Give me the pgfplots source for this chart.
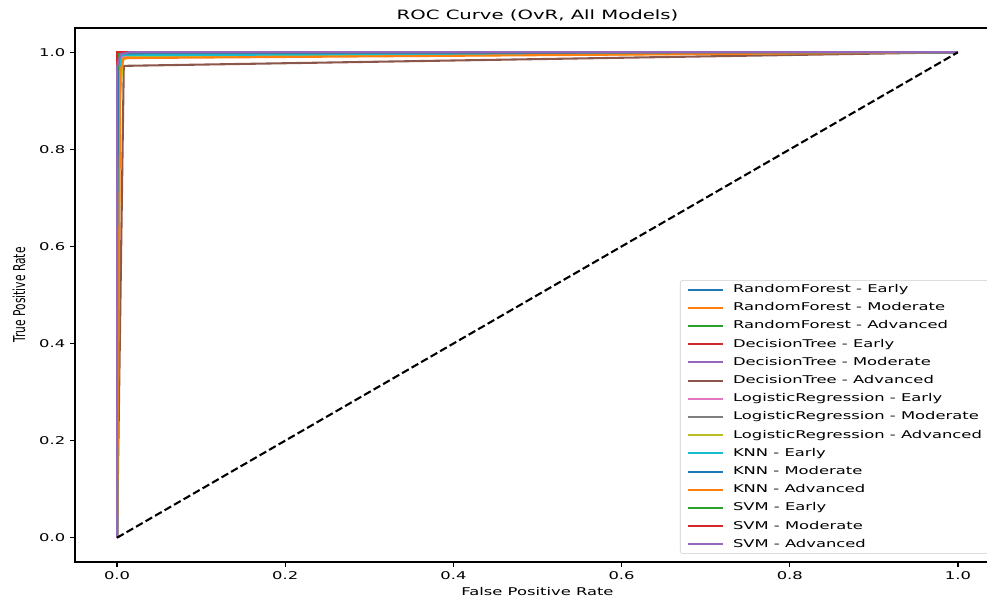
\documentclass[border=0pt]{standalone}
\usepackage{fontspec}
\setmainfont{DejaVu Sans}
\usepackage{graphicx}
\usepackage{pgfplots}
\pgfplotsset{compat=1.18}
\newcommand{\hs}[1]{\scalebox{1.53}[1]{#1}}
\definecolor{c0}{HTML}{1F77B4}
\definecolor{c1}{HTML}{FF7F0E}
\definecolor{c2}{HTML}{2CA02C}
\definecolor{c3}{HTML}{D62728}
\definecolor{c4}{HTML}{9467BD}
\definecolor{c5}{HTML}{8C564B}
\definecolor{c6}{HTML}{E377C2}
\definecolor{c7}{HTML}{7F7F7F}
\definecolor{c8}{HTML}{BCBD22}
\definecolor{c9}{HTML}{17BECF}
\begin{document}
\begin{tikzpicture}[font=\fontsize{7.7}{9.2}\selectfont]
\begin{axis}[
  scale only axis, width=666pt, height=384.48pt,
  xmin=-0.05, xmax=1.05, ymin=-0.05, ymax=1.05,
  xtick={0,0.2,0.4,0.6,0.8,1.0}, ytick={0,0.2,0.4,0.6,0.8,1.0},
  tick align=outside, tick pos=left, major tick length=3.5pt,
  tick style={black, line width=0.8pt},
  axis line style={line width=0.8pt},
  /pgf/number format/assume math mode=true,
  xticklabel={\hs{\pgfmathprintnumber[fixed,fixed zerofill,precision=1]{\tick}}},
  yticklabel={\hs{\pgfmathprintnumber[fixed,fixed zerofill,precision=1]{\tick}}},
  every axis title shift=0pt,
  title={\fontsize{9.24}{11}\selectfont\hs{ROC Curve (OvR, All Models)}},
  title style={at={(axis description cs:0.5,1.024)}, anchor=center},
  xlabel={\hs{False Positive Rate}},
  xlabel style={at={(axis description cs:0.5,-0.056)}, anchor=center},
  ylabel={\scalebox{1}[1.53]{True Positive Rate}},
  ylabel style={at={(axis description cs:-0.0605,0.5)}, anchor=center},
  legend cell align=left,
  legend image code/.code={\draw[#1] (0pt,0pt) -- (25.2pt,0pt); \path (32pt,0pt);},
  legend style={at={(axis description cs:0.654,0.528)}, anchor=north west,
    draw=black!20, rounded corners=2pt, fill=white, fill opacity=0.8, text opacity=1,
    inner xsep=4.5pt, inner ysep=3pt, row sep=5.7pt,
    nodes={inner sep=0pt, text height=5.8pt, text depth=1.6pt}},
  every axis plot/.append style={line width=1.5pt},
]
\addplot[c0] coordinates {(0,0) (0,0.96) (0.001,0.995) (0.003,1) (1,1)};
\addlegendentry{\hs{RandomForest - Early}}
\addplot[c1] coordinates {(0,0) (0.001,0.93) (0.006,0.985) (0.012,0.99) (1,1)};
\addlegendentry{\hs{RandomForest - Moderate}}
\addplot[c2] coordinates {(0,0) (0,0.97) (0.002,0.997) (0.006,1) (1,1)};
\addlegendentry{\hs{RandomForest - Advanced}}
\addplot[c3] coordinates {(0,0) (0.001,1) (1,1)};
\addlegendentry{\hs{DecisionTree - Early}}
\addplot[c4] coordinates {(0,0) (0.002,0.995) (1,1)};
\addlegendentry{\hs{DecisionTree - Moderate}}
\addplot[c5] coordinates {(0,0) (0.008,0.972) (1,1)};
\addlegendentry{\hs{DecisionTree - Advanced}}
\addplot[c6] coordinates {(0,0) (0,0.2) (0.002,0.9) (0.005,0.99) (0.02,1) (1,1)};
\addlegendentry{\hs{LogisticRegression - Early}}
\addplot[c7] coordinates {(0,0) (0.001,0.95) (0.004,0.995) (0.01,1) (1,1)};
\addlegendentry{\hs{LogisticRegression - Moderate}}
\addplot[c8] coordinates {(0,0) (0.003,0.9) (0.007,0.985) (0.015,0.99) (1,1)};
\addlegendentry{\hs{LogisticRegression - Advanced}}
\addplot[c9] coordinates {(0,0) (0.002,0.95) (0.005,0.994) (1,1)};
\addlegendentry{\hs{KNN - Early}}
\addplot[c0] coordinates {(0,0) (0.001,0.97) (0.003,0.998) (1,1)};
\addlegendentry{\hs{KNN - Moderate}}
\addplot[c1] coordinates {(0,0) (0.004,0.96) (0.008,0.988) (1,1)};
\addlegendentry{\hs{KNN - Advanced}}
\addplot[c2] coordinates {(0,0) (0,0.95) (0.002,0.996) (0.01,1) (1,1)};
\addlegendentry{\hs{SVM - Early}}
\addplot[c3] coordinates {(0,0) (0,1) (0.015,1) (1,1)};
\addlegendentry{\hs{SVM - Moderate}}
\addplot[c4] coordinates {(0,0) (0,0.97) (0.004,0.996) (0.015,1) (1,1)};
\addlegendentry{\hs{SVM - Advanced}}
\addplot[black, forget plot, dash pattern=on 5.5pt off 2.4pt] coordinates {(0,0) (1,1)};
\coordinate (O) at (rel axis cs:0,0);
\end{axis}
\pgfresetboundingbox
\path[use as bounding box] ([shift={(-54pt,-28.8pt)}]O) rectangle ++(710.64pt,433.44pt);
\end{tikzpicture}
\end{document}
